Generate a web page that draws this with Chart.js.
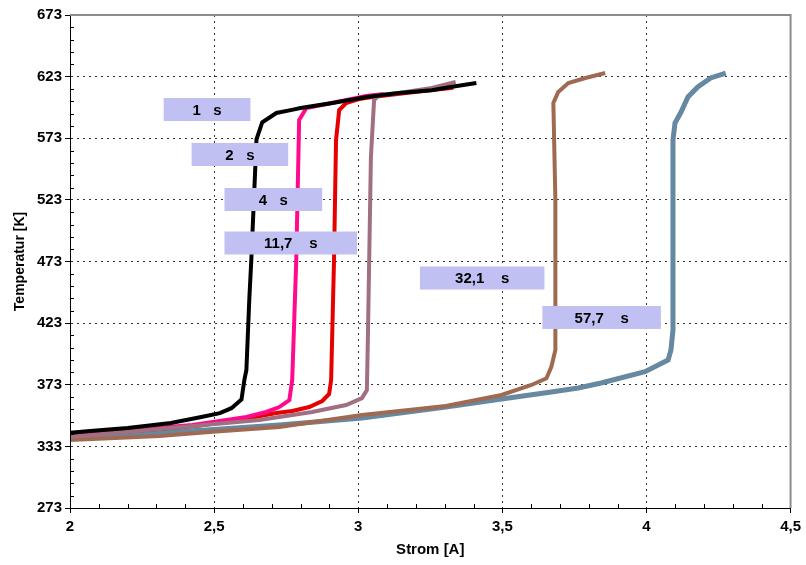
<!DOCTYPE html>
<html>
<head>
<meta charset="utf-8">
<script src="https://cdn.jsdelivr.net/npm/chart.js@4.4.1/dist/chart.umd.min.js"></script>
<style>
  html, body { margin: 0; padding: 0; background: #fff; }
  #wrap { width: 806px; height: 565px; }
</style>
</head>
<body>
<div id="wrap"><canvas id="chart"></canvas></div>
<script>
// axis ticks (the original labels the 323 line as "333")
const xTickValues = [2, 2.5, 3, 3.5, 4, 4.5];
const xTickLabels = ["2", "2,5", "3", "3,5", "4", "4,5"];
const yTickValues = [273, 323, 373, 423, 473, 523, 573, 623, 673];
const yTickLabels = ["273", "333", "373", "423", "473", "523", "573", "623", "673"];

// Strom [A] / Temperatur [K] per pulse length
const strom1s = [2.0, 2.07, 2.2, 2.35, 2.46, 2.52, 2.56, 2.595, 2.605, 2.612, 2.622, 2.629, 2.647, 2.667, 2.716, 2.77, 2.8, 2.91, 3.03, 3.14, 3.255, 3.32, 3.41];
const temp1s = [334, 335.5, 338, 342, 347, 350, 354, 361, 377, 385, 442, 474, 572, 586, 593.5, 596, 597.5, 601.6, 606.5, 609.7, 612, 614.6, 617.8];

const strom2s = [2.0, 2.2, 2.425, 2.543, 2.612, 2.681, 2.726, 2.761, 2.771, 2.785, 2.795, 2.82, 2.909, 3.027, 3.089];
const temp2s = [333, 336, 340.3, 344.4, 346.8, 350.9, 354.9, 360.6, 376.9, 474.2, 587.8, 597.5, 601.6, 607.3, 608.9];

const strom4s = [2.0, 2.2, 2.45, 2.6, 2.716, 2.771, 2.83, 2.875, 2.899, 2.906, 2.916, 2.923, 2.934, 2.958, 3.003, 3.048, 3.255, 3.33];
const temp4s = [332, 335, 340, 345, 350.1, 351.7, 354.9, 359.8, 365.5, 376.9, 474.2, 571.6, 595.9, 601.6, 604.8, 606.5, 612.1, 614];

const strom11s = [2.0, 2.311, 2.657, 2.84, 2.958, 3.013, 3.03, 3.034, 3.044, 3.055, 3.072, 3.141, 3.255, 3.338];
const temp11s = [330.6, 337.1, 344.4, 350.9, 356.6, 362.2, 368.7, 417.4, 557.8, 604.0, 608.1, 609.7, 613.8, 618.6];

const strom32s = [2.0, 2.311, 2.484, 2.726, 3.013, 3.304, 3.497, 3.601, 3.653, 3.67, 3.684, 3.684, 3.677, 3.694, 3.729, 3.788, 3.857];
const temp32s = [328.1, 331.4, 334.7, 338.7, 348.5, 355.8, 364.7, 372.8, 378.2, 387.6, 401.2, 522.9, 601.6, 610.5, 617.8, 621.9, 625.9];

const strom57s = [2.0, 2.474, 2.726, 3.013, 3.304, 3.497, 3.67, 3.763, 3.843, 3.995, 4.075, 4.085, 4.092, 4.092, 4.099, 4.12, 4.144, 4.178, 4.223, 4.275];
const temp57s = [331, 336.3, 340.3, 346.0, 354.9, 361.4, 367.1, 370.4, 374.4, 383.6, 393.1, 401.2, 417.4, 571.6, 585.4, 594.3, 606.5, 614.6, 621.9, 625.9];

const seriesLabels = ["1 s", "2 s", "4 s", "11,7 s", "32,1 s", "57,7 s"];

// label boxes: x range and vertical centre in data units
const boxes = [
  { text: "1   s", x0: 2.325, x1: 2.626, y: 596.3 },
  { text: "2   s", x0: 2.422, x1: 2.757, y: 559.8 },
  { text: "4   s", x0: 2.536, x1: 2.875, y: 523.3 },
  { text: "11,7    s", x0: 2.536, x1: 2.996, y: 488.0 },
  { text: "32,1    s", x0: 3.214, x1: 3.646, y: 459.6 },
  { text: "57,7    s", x0: 3.639, x1: 4.050, y: 427.6 },
];

function points(xs, ys) {
  return xs.map((x, i) => ({ x: x, y: ys[i] }));
}

function series(label, xs, ys, color, order, width) {
  return {
    label: label,
    data: points(xs, ys),
    borderColor: color,
    backgroundColor: color,
    borderWidth: width || 4,
    showLine: true,
    pointRadius: 0,
    tension: 0,
    order: order,
  };
}

const extras = {
  id: "extras",
  afterDraw(chart) {
    const { ctx, chartArea: a, scales: { x, y } } = chart;
    ctx.save();

    // solid axis lines and minor ticks inside the plot
    ctx.strokeStyle = "#000";
    ctx.lineWidth = 1;
    ctx.beginPath();
    ctx.moveTo(a.left + 0.5, a.top);
    ctx.lineTo(a.left + 0.5, a.bottom + 0.5);
    ctx.lineTo(a.right, a.bottom + 0.5);
    for (let v = 21; v < 45; v++) {
      if (v % 5 === 0) continue;
      const px = Math.round(x.getPixelForValue(v / 10)) + 0.5;
      ctx.moveTo(px, a.bottom);
      ctx.lineTo(px, a.bottom - 4);
    }
    for (let v = 283; v < 673; v += 10) {
      if ((v - 273) % 50 === 0) continue;
      const py = Math.round(y.getPixelForValue(v)) + 0.5;
      ctx.moveTo(a.left, py);
      ctx.lineTo(a.left + 4, py);
    }
    ctx.stroke();

    // grey top and right frame
    ctx.strokeStyle = "#8c8c8c";
    ctx.lineWidth = 2;
    ctx.beginPath();
    ctx.moveTo(a.left, a.top);
    ctx.lineTo(a.right, a.top);
    ctx.lineTo(a.right, a.bottom);
    ctx.stroke();

    // label boxes
    ctx.font = "bold 15px 'Liberation Sans', Arial, sans-serif";
    ctx.textAlign = "center";
    ctx.textBaseline = "middle";
    boxes.forEach((b) => {
      const l = x.getPixelForValue(b.x0);
      const r = x.getPixelForValue(b.x1);
      const cy = y.getPixelForValue(b.y);
      ctx.fillStyle = "#c0c0f2";
      ctx.fillRect(l, cy - 11.5, r - l, 23);
      ctx.fillStyle = "#000";
      ctx.fillText(b.text, (l + r) / 2, cy + 1);
    });
    ctx.restore();
  },
};

const fontFamily = "'Liberation Sans', Arial, sans-serif";
const tickFont = { family: fontFamily, size: 15, weight: "bold" };

const gridOpts = {
  color: "#333",
  tickLength: 5,
  tickColor: "#000",
  tickBorderDash: [],
};
const borderOpts = { color: "#000", width: 1, dash: [2, 4] };

new Chart(document.getElementById("chart"), {
  type: "scatter",
  data: {
    datasets: [
      series(seriesLabels[0], strom1s, temp1s, "#000000", 1, 4),
      series(seriesLabels[1], strom2s, temp2s, "#ff0a8c", 3, 4),
      series(seriesLabels[2], strom4s, temp4s, "#e60000", 4, 4),
      series(seriesLabels[3], strom11s, temp11s, "#a07080", 2, 4),
      series(seriesLabels[4], strom32s, temp32s, "#a06a52", 5, 4),
      series(seriesLabels[5], strom57s, temp57s, "#6688a0", 6, 5),
    ],
  },
  options: {
    responsive: true,
    maintainAspectRatio: false,
    animation: false,
    layout: { padding: { left: 0, right: 13, top: 15, bottom: 0 } },
    plugins: {
      legend: { display: false },
      tooltip: { enabled: false },
    },
    scales: {
      x: {
        type: "linear",
        min: 2,
        max: 4.5,
        afterBuildTicks: (scale) => {
          scale.ticks = xTickValues.map((v) => ({ value: v }));
        },
        afterFit: (scale) => {
          scale.height = 57;
        },
        ticks: {
          font: tickFont,
          color: "#000",
          padding: 5,
          maxRotation: 0,
          callback: (v) => xTickLabels[xTickValues.indexOf(v)],
        },
        grid: gridOpts,
        border: borderOpts,
        title: {
          display: true,
          text: "Strom [A]",
          color: "#000",
          font: { family: fontFamily, size: 15, weight: "bold" },
          padding: { top: 0, bottom: 6 },
        },
      },
      y: {
        type: "linear",
        min: 273,
        max: 673,
        afterBuildTicks: (scale) => {
          scale.ticks = yTickValues.map((v) => ({ value: v }));
        },
        afterFit: (scale) => {
          scale.width = 70;
        },
        ticks: {
          font: tickFont,
          color: "#000",
          padding: 3,
          callback: (v) => yTickLabels[yTickValues.indexOf(v)],
        },
        grid: gridOpts,
        border: borderOpts,
        title: {
          display: true,
          text: "Temperatur [K]",
          color: "#000",
          font: { family: fontFamily, size: 14, weight: "bold" },
          padding: { top: 12, bottom: 0 },
        },
      },
    },
  },
  plugins: [extras],
});
</script>
</body>
</html>
